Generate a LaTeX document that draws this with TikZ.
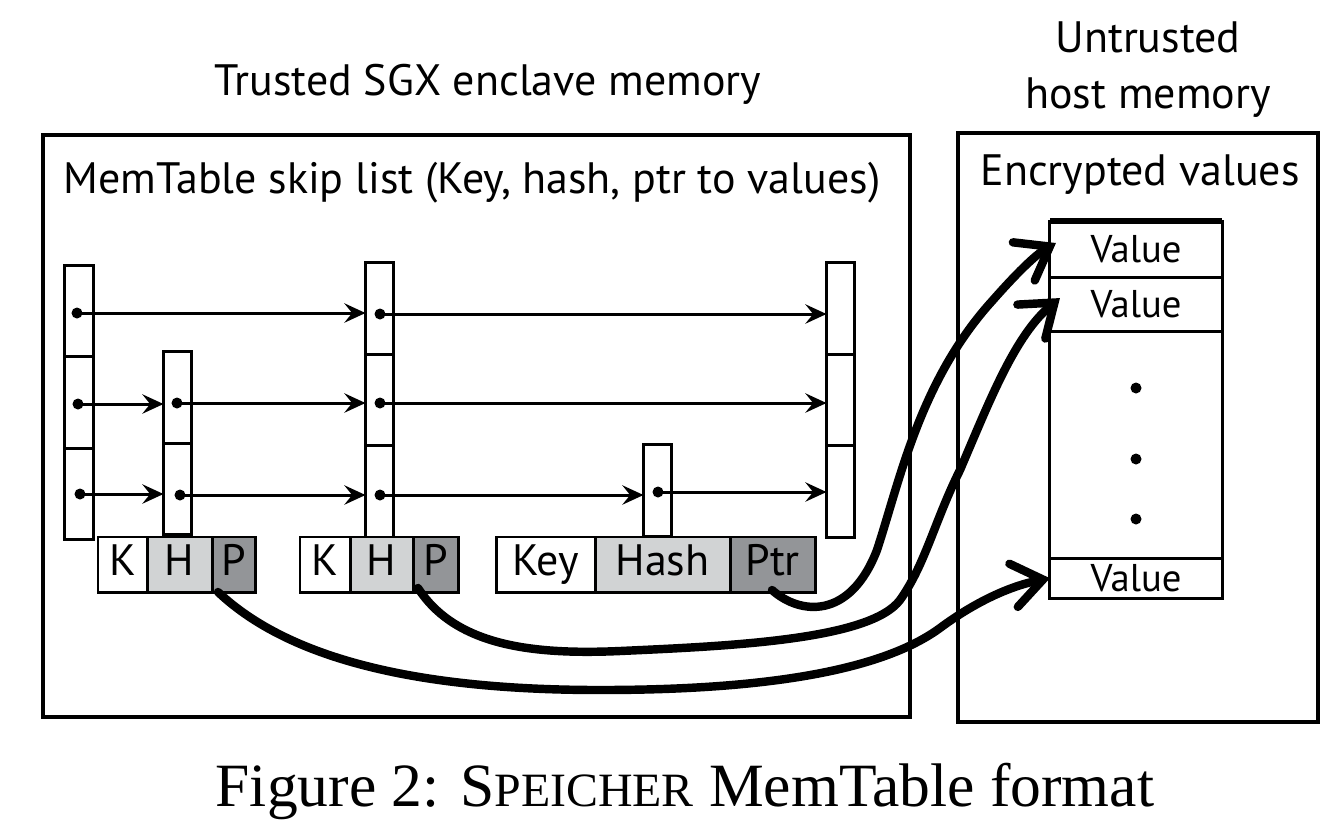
\documentclass[tikz,border=0pt]{standalone}
\usepackage{fontspec}
\setmainfont{Liberation Serif}
\newfontfamily\labelfont{PT Sans}
\usetikzlibrary{positioning,arrows.meta}

\definecolor{hashgray}{RGB}{209,211,212}
\definecolor{ptrgray}{RGB}{147,149,152}

\tikzset{
  cell/.style={draw, line width=0.85pt, minimum width=0.28cm, minimum height=0.91cm, inner sep=0pt, outer sep=0pt},
  dot/.style={circle, fill, inner sep=0pt, minimum size=0.11cm},
  ptr/.style={-{Stealth[length=6pt,width=5.5pt,inset=2.2pt]}, line width=0.85pt},
  field/.style={draw, line width=0.85pt, minimum height=0.55cm, inner sep=0pt, outer sep=0pt,
    text height=9pt, text depth=2.5pt, font=\labelfont\fontsize{12.5}{14}\selectfont},
  hashf/.style={field, fill=hashgray},
  ptrf/.style={field, fill=ptrgray},
  valcell/.style={draw, line width=0.85pt, minimum width=1.72cm, inner sep=0pt, outer sep=0pt,
    font=\labelfont\fontsize{11}{13}\selectfont},
  region/.style={draw, line width=1.25pt, inner sep=0pt},
  heading/.style={font=\labelfont\fontsize{12.5}{15.9}\selectfont},
  link/.style={-{Straight Barb[length=8.5pt,width=12.5pt,line cap=round]}, line width=2.4pt, line cap=round},
}

\begin{document}
\begin{tikzpicture}[x=0.01cm, y=-0.01cm]
\useasboundingbox (0,0) rectangle (1330,829);

% headings
\node[heading, anchor=base] (trusted) at (488,95) {Trusted SGX enclave memory};
\node[heading, align=center] (untrusted) at (1148,70) {Untrusted\\host memory};

% memory regions
\node[region, minimum width=8.67cm, minimum height=5.82cm] (enclave) at (476.5,426) {};
\node[region, minimum width=3.60cm, minimum height=5.89cm] (host) at (1138,427.5) {};
\node[heading, anchor=base] (skiplist) at (472,193) {MemTable skip list (Key, hash, ptr to values)};
\node[heading, anchor=base] (encvals) at (1140,185) {Encrypted values};

% towers
\node[cell] (t1a) at (79,311) {};
\node[cell] (t1b) at (79,402.5) {};
\node[cell] (t1c) at (79,494) {};
\node[cell] (t2a) at (177.5,397.5) {};
\node[cell] (t2b) at (177.5,489) {};
\node[cell] (t3a) at (379.5,308.5) {};
\node[cell] (t3b) at (379.5,400) {};
\node[cell] (t3c) at (379.5,491.5) {};
\node[cell] (t4a) at (657.5,490.5) {};
\node[cell] (t5a) at (840.5,308.5) {};
\node[cell] (t5b) at (840.5,400) {};
\node[cell] (t5c) at (840.5,491.5) {};

% forward pointers
\node[dot] (d1a) at (77,313) {};
\node[dot] (d1b) at (78,404) {};
\node[dot] (d1c) at (80,494) {};
\node[dot] (d2a) at (177,403) {};
\node[dot] (d2b) at (180,495) {};
\node[dot] (d3a) at (380,314) {};
\node[dot] (d3b) at (380,403) {};
\node[dot] (d3c) at (380,495) {};
\node[dot] (d4a) at (658,492) {};

\draw[ptr] (d1a.center) -- (d1a -| t3a.west);
\draw[ptr] (d3a.center) -- (d3a -| t5a.west);
\draw[ptr] (d1b.center) -- (d1b -| t2a.west);
\draw[ptr] (d2a.center) -- (d2a -| t3b.west);
\draw[ptr] (d3b.center) -- (d3b -| t5b.west);
\draw[ptr] (d1c.center) -- (d1c -| t2b.west);
\draw[ptr] (d2b.center) -- (d2b -| t3c.west);
\draw[ptr] (d3c.center) -- (d3c -| t4a.west);
\draw[ptr] (d4a.center) -- (d4a -| t5c.west);

% entries
\node[field, minimum width=0.49cm, anchor=west] (k1) at (98,564.5) {K};
\node[hashf, minimum width=0.65cm, right=0pt of k1] (h1) {H};
\node[ptrf, minimum width=0.43cm, right=0pt of h1] (p1) {P};
\node[field, minimum width=0.50cm, anchor=west] (k2) at (300,564.5) {K};
\node[hashf, minimum width=0.63cm, right=0pt of k2] (h2) {H};
\node[ptrf, minimum width=0.45cm, right=0pt of h2] (p2) {P};
\node[field, minimum width=0.99cm, anchor=west] (k3) at (496,564.5) {Key};
\node[hashf, minimum width=1.35cm, right=0pt of k3] (h3) {Hash};
\node[ptrf, minimum width=0.85cm, right=0pt of h3] (p3) {Ptr};

% value log
\node[valcell, minimum height=0.56cm] (v1) at (1136,249) {Value};
\node[valcell, minimum height=0.54cm, below=0pt of v1] (v2) {Value};
\node[valcell, minimum height=2.27cm, below=0pt of v2] (vgap) {};
\node[valcell, minimum height=0.40cm, below=0pt of vgap] (v3) {Value};
\draw[line width=1.5pt] (v1.north west) -- (v1.north east);
\node[dot] (g1) at (1136,388) {};
\node[dot] (g2) at (1136,459) {};
\node[dot] (g3) at (1136,519) {};

% pointers to values
\coordinate (pa) at (772,590);
\coordinate (pb) at (418,588);
\coordinate (pc) at (218,592);
\draw[link] (pa) .. controls (800,615) and (850,620) .. (877,550)
  .. controls (900,480) and (920,380) .. (993,300)
  .. controls (1015,275) and (1035,255) .. ([shift={(6,-6)}]v1.west);
\draw[link] (pb) .. controls (455,645) and (530,655) .. (620,651)
  .. controls (730,646) and (870,640) .. (900,600)
  .. controls (925,565) and (935,520) .. (960,470)
  .. controls (990,400) and (1015,335) .. ([shift={(10,-6)}]v2.west);
\draw[link] (pc) .. controls (290,660) and (420,690) .. (600,690)
  .. controls (760,690) and (880,672) .. (940,628)
  .. controls (975,602) and (1010,586) .. (v3.west);

% caption
\node[anchor=base] (caption) at (685,806) {\fontsize{17.5}{21}\selectfont Figure 2: S{\fontsize{13.6}{16}\selectfont PEICHER} MemTable format};
\end{tikzpicture}
\end{document}
